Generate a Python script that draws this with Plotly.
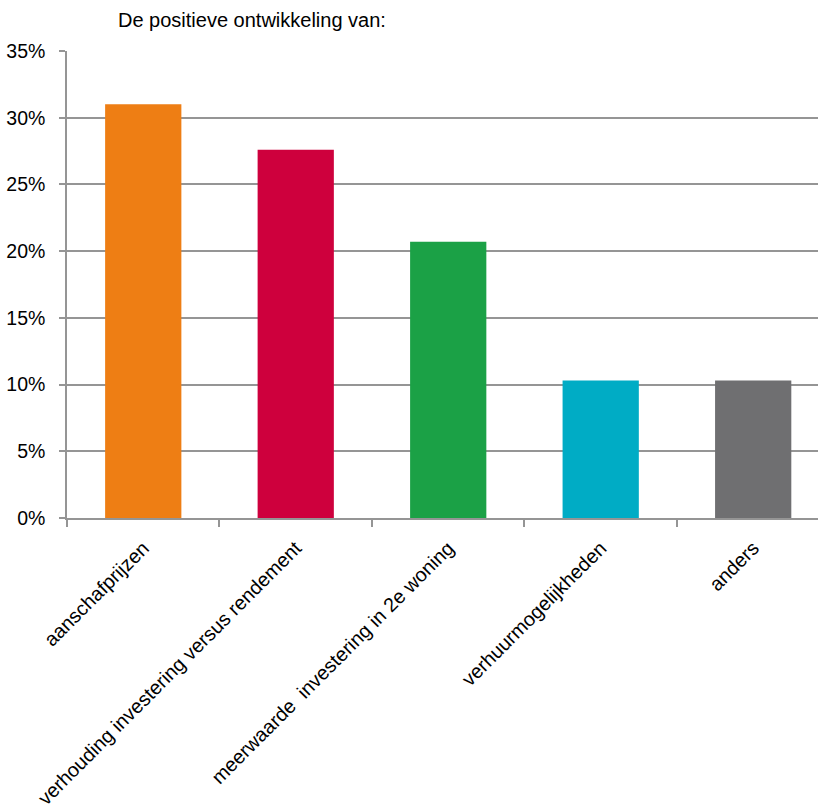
import plotly.graph_objects as go

categories = ["aanschafprijzen", "verhouding investering versus rendement",
              "meerwaarde  investering in 2e woning", "verhuurmogelijkheden", "anders"]
values = [0.310, 0.276, 0.207, 0.103, 0.103]
colors = ["#EE7E14", "#CE003D", "#1BA146", "#00ACC5", "#6F6F71"]
title_text = "De positieve ontwikkeling van:"

W, H = 818, 807
L, T, B = 67, 51, 518

fig = go.Figure(go.Bar(x=categories, y=values, marker=dict(color=colors, line=dict(width=0)),
                       width=0.5))

font_family = "Liberation Sans, Arial, sans-serif"
axis_gray = "#959595"
fig.update_layout(
    width=W, height=H,
    margin=dict(l=L, r=0, t=T, b=H - B, pad=0),
    paper_bgcolor="white", plot_bgcolor="white",
    showlegend=False,
    font=dict(family=font_family, color="#000000", size=18),
    title=dict(text=title_text, x=(118 - L) / (W - L), xanchor="left", xref="paper",
               y=1 - 20 / H, yanchor="middle", yref="container",
               font=dict(size=20, family=font_family, color="#000")),
)
fig.update_xaxes(
    type="category", range=[-0.5, 4.425], automargin=False,
    tickson="boundaries", ticks="outside", ticklen=7, tickcolor=axis_gray, tickwidth=1.5,
    showline=True, linecolor=axis_gray, linewidth=1.5,
    tickangle=-45, tickfont=dict(size=19.8, family=font_family, color="#000"),
    ticklabelstandoff=9, showgrid=False, zeroline=False,
)
fig.update_yaxes(
    range=[0, 0.35], dtick=0.05, tick0=0, tickformat=".0%", automargin=False,
    ticks="outside", ticklen=6, tickcolor=axis_gray, tickwidth=1.5,
    showline=True, linecolor=axis_gray, linewidth=1.5,
    showgrid=True, gridcolor=axis_gray, gridwidth=1.5, zeroline=False,
    tickfont=dict(size=19.5, family=font_family, color="#000"),
    ticklabelstandoff=10,
)
fig.write_html("out.html")
